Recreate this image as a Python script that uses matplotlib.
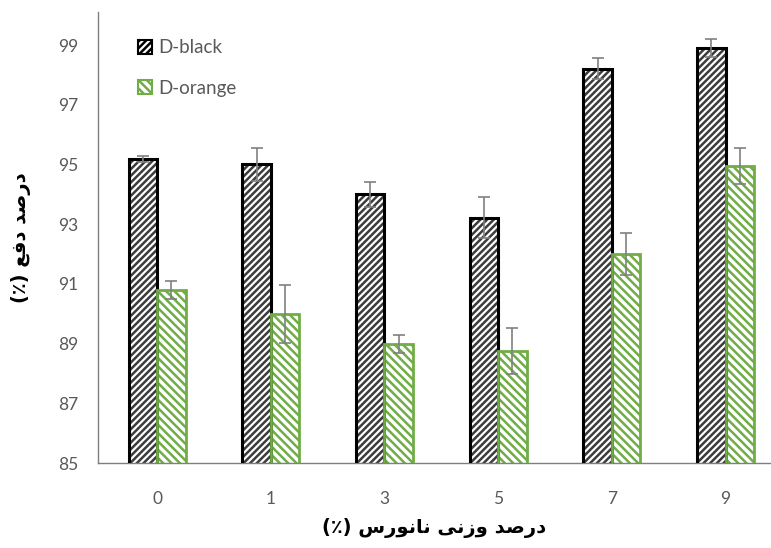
import matplotlib
matplotlib.use("Agg")
import matplotlib.pyplot as plt
import numpy as np
from matplotlib.patches import Patch

categories = ["0", "1", "3", "5", "7", "9"]
black_vals = [95.18, 95.0, 94.0, 93.22, 98.2, 98.9]
black_err = [0.1, 0.55, 0.42, 0.7, 0.35, 0.3]
orange_vals = [90.8, 90.0, 89.0, 88.75, 92.0, 94.95]
orange_err = [0.3, 0.97, 0.3, 0.77, 0.7, 0.6]
series_names = ["D-black", "D-orange"]
yticks = [85, 87, 89, 91, 93, 95, 97, 99]

# Persian labels (presentation forms, visual order)
ylabel_txt = "(\u066A) " + "\uFECA\uFED3\uFEA9" + " " + "\uFEAA\uFEBB\uFEAD\uFEA9"
xlabel_txt = ("(\u066A) " + "\uFEB1\uFEAD\uFEEE\uFEE7\uFE8E\uFEE7" + " "
              + "\uFBFD\uFEE7\uFEAF\uFEED" + " " + "\uFEAA\uFEBB\uFEAD\uFEA9")

plt.rcParams['hatch.linewidth'] = 1.8
plt.rcParams['font.family'] = ['Lato', 'DejaVu Sans']

fig = plt.figure(figsize=(7.71, 5.48), dpi=100)
ax = fig.add_axes([98/771, 1-463/548, 1-98/771, (463-12.2)/548])

x = np.arange(len(categories))
w = 0.25
green = "#70AD47"

# black bars: hatch layer then outline
ax.bar(x - w/2, black_vals, w, color="white", edgecolor="#3c3c3c",
       hatch="/////", linewidth=0, zorder=2)
ax.bar(x - w/2, black_vals, w, fill=False, edgecolor="black", linewidth=2.2, zorder=3)
# green bars
ax.bar(x + w/2, orange_vals, w, color="white", edgecolor=green,
       hatch="\\\\\\\\", linewidth=0, zorder=2)
ax.bar(x + w/2, orange_vals, w, fill=False, edgecolor=green, linewidth=2.0, zorder=3)

ax.errorbar(x - w/2, black_vals, yerr=black_err, fmt="none", ecolor="#808080",
            elinewidth=1.2, capsize=4.5, capthick=1.2, zorder=4)
ax.errorbar(x + w/2, orange_vals, yerr=orange_err, fmt="none", ecolor="#808080",
            elinewidth=1.2, capsize=4.5, capthick=1.2, zorder=4)

ax.set_ylim(85, 100.1)
ax.set_xlim(-0.52, 5.40)
ax.set_yticks(yticks)
ax.set_xticks(x)
ax.set_xticklabels(categories)
ax.tick_params(axis='both', length=0, labelsize=12.5, labelcolor="#595959")
ax.tick_params(axis='y', pad=14)
ax.tick_params(axis='x', pad=20)
for s in ["top", "right"]:
    ax.spines[s].set_visible(False)
for s in ["left", "bottom"]:
    ax.spines[s].set_color("#7f7f7f")
    ax.spines[s].set_linewidth(1.0)

ax.set_ylabel(ylabel_txt, fontsize=14, fontweight="bold", family=['DejaVu Sans'],
              labelpad=20)
ax.set_xlabel(xlabel_txt, fontsize=14, fontweight="bold", family=['DejaVu Sans'],
              labelpad=8)

handles = [Patch(facecolor="white", edgecolor="black", hatch="/////", linewidth=1.5),
           Patch(facecolor="white", edgecolor=green, hatch="\\\\\\\\", linewidth=1.5)]
leg = ax.legend(handles, series_names, loc="upper left", bbox_to_anchor=(0.06, 0.94),
                frameon=False, fontsize=13.5, handlelength=0.75, handleheight=0.75,
                labelspacing=1.25, handletextpad=0.3, borderpad=0, borderaxespad=0)
for t in leg.get_texts():
    t.set_color("#595959")

fig.savefig("out.png", dpi=100)
